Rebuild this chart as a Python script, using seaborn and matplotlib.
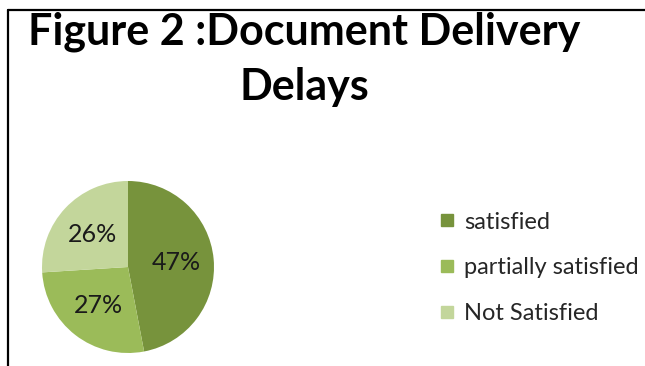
import matplotlib
matplotlib.use("Agg")
import matplotlib.pyplot as plt
import seaborn as sns
from matplotlib.lines import Line2D

categories = ['satisfied', 'partially satisfied', 'Not Satisfied']
shares = [47, 27, 26]
colors = ['#77933C', '#9BBB59', '#C3D69B']
title = 'Figure 2 :Document Delivery\nDelays'

sns.set_style("white")
plt.rcParams['font.family'] = ['Lato', 'DejaVu Sans']

W, H = 645, 366
fig = plt.figure(figsize=(W / 100, H / 100), dpi=100)

# pie axes: center ~ (128, 267) px, radius ~86 px
ax = fig.add_axes([42 / W, (H - 353) / H, 172 / W, 172 / H])
wedges, texts, autotexts = ax.pie(shares, colors=sns.color_palette(colors),
                                  startangle=90, counterclock=False,
                                  autopct='%d%%', pctdistance=0.56,
                                  wedgeprops={'linewidth': 0},
                                  textprops={'fontsize': 18, 'color': '#1a1a1a'})
ax.set_xlim(-1, 1)
ax.set_ylim(-1, 1)
ax.set_aspect('equal')

fig.text(304 / W, 1 - 12 / H, title, ha='center', va='top',
         fontsize=31, fontweight='bold', linespacing=1.45, color='black')

handles = [Line2D([0], [0], marker='s', linestyle='', markersize=9,
                  markerfacecolor=c, markeredgecolor=c) for c in colors]
fig.legend(handles, categories, loc='center left',
           bbox_to_anchor=(438 / W, 1 - 268 / H), frameon=False,
           fontsize=17, handletextpad=0.3, labelspacing=1.05, handlelength=0.8,
           borderaxespad=0, borderpad=0)

# frame lines (top and left)
fig.add_artist(Line2D([8 / W, 1], [1 - 10 / H, 1 - 10 / H], color='black', lw=1.6))
fig.add_artist(Line2D([8 / W, 8 / W], [0, 1 - 10 / H], color='black', lw=1.6))

fig.savefig('out.png', dpi=100)
